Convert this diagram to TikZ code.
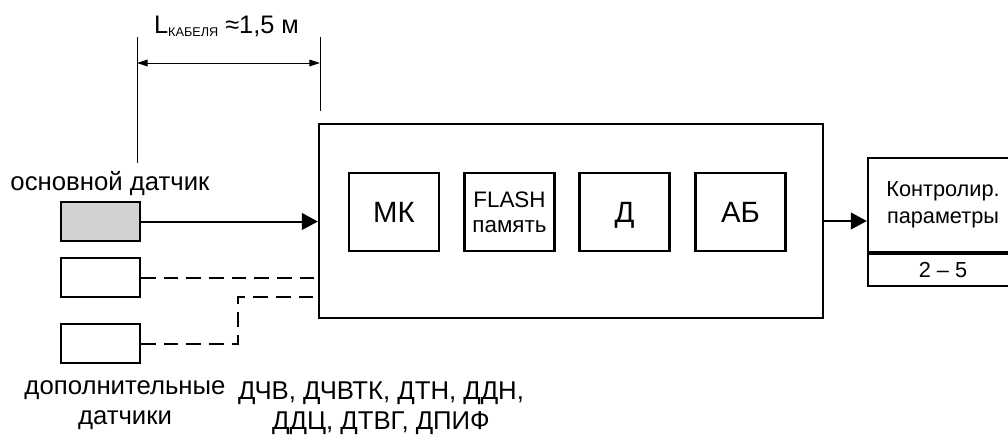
\documentclass[tikz,border=0pt]{standalone}
\usepackage{fontspec}
\setmainfont{Liberation Sans}
\usetikzlibrary{arrows.meta}
\begin{document}
\begin{tikzpicture}[x=0.75pt,y=-0.75pt,
  frame/.style={draw, line width=1.7pt, inner sep=0pt},
  box/.style={frame, minimum width=67.5pt, minimum height=58.5pt, font=\fontsize{22}{26}\selectfont},
  bigtext/.style={text depth=0pt},
  sensor/.style={frame, minimum width=59.25pt, minimum height=29.25pt},
  lbl/.style={inner sep=0pt, font=\fontsize{19.3}{22.5}\selectfont, align=center},
  conn/.style={line width=1.5pt},
  dashconn/.style={line width=1.5pt, dash pattern=on 11pt off 6pt},
  dimline/.style={line width=0.75pt},
  arr/.style={-{Triangle[length=12pt,width=12.5pt]}},
  dimarr/.style={{Triangle[length=8pt,width=5pt]}-{Triangle[length=8pt,width=5pt]}}
]
\useasboundingbox (0,0) rectangle (1008,436);
\clip (0,0) rectangle (1008,436);

% main unit
\node[frame, minimum width=378pt, minimum height=145.5pt] (main) at (571,221) {};
\node[box, bigtext] (mk) at (394,212) {МК};
\node[box, font=\fontsize{16.8}{19}\selectfont, align=center] (flash) at (509.5,212) {FLASH\\память};
\node[box, bigtext] (d) at (624.5,212) {Д};
\node[box, bigtext] (ab) at (740.5,212) {АБ};

% output
\node[frame, minimum width=112.5pt, minimum height=70.5pt, align=center, font=\fontsize{16.3}{20}\selectfont] (out) at (943,205) {Контролир.\\параметры};
\node[frame, minimum width=112.5pt, minimum height=24pt, anchor=north, font=\fontsize{16.3}{20}\selectfont] (rng) at (out.south) {2 – 5};
\draw[conn, arr] (main.east) -- (out.west |- main.east);

% sensors
\node[sensor, fill=gray!35] (s1) at (100.5,221.5) {};
\node[sensor] (s2) at (100.5,277.5) {};
\node[sensor] (s3) at (100.5,343.5) {};
\draw[conn, arr] (s1.east) -- (s1.east -| main.west);
\draw[dashconn] (s2.east) -- (s2.east -| main.west);
\coordinate (bend) at (238,297);
\draw[dashconn] (s3.east) -| (bend) -- (bend -| main.west);

% dimension
\coordinate (dlt) at (137,37);
\coordinate (dlb) at (137,163);
\coordinate (drt) at (320,37);
\coordinate (drb) at (320,111);
\coordinate (da) at (137,63);
\coordinate (db) at (320,63);
\draw[dimline] (dlt) -- (dlb);
\draw[dimline] (drt) -- (drb);
\draw[dimline, dimarr] (da) -- (db);
\node[inner sep=0pt, anchor=base, font=\fontsize{19}{22}\selectfont] (lab) at (226.5,33) {L\raisebox{-0.12em}{\fontsize{9.5}{10}\selectfont КАБЕЛЯ} ≈1,5 м};

% labels
\node[lbl, anchor=base] (main lbl) at (110,190) {основной датчик};
\node[lbl] (extra lbl) at (125,405) {дополнительные\\датчики};
\node[lbl] (types) at (381,408) {ДЧВ, ДЧВТК, ДТН, ДДН,\\ДДЦ, ДТВГ, ДПИФ};
\end{tikzpicture}
\end{document}
